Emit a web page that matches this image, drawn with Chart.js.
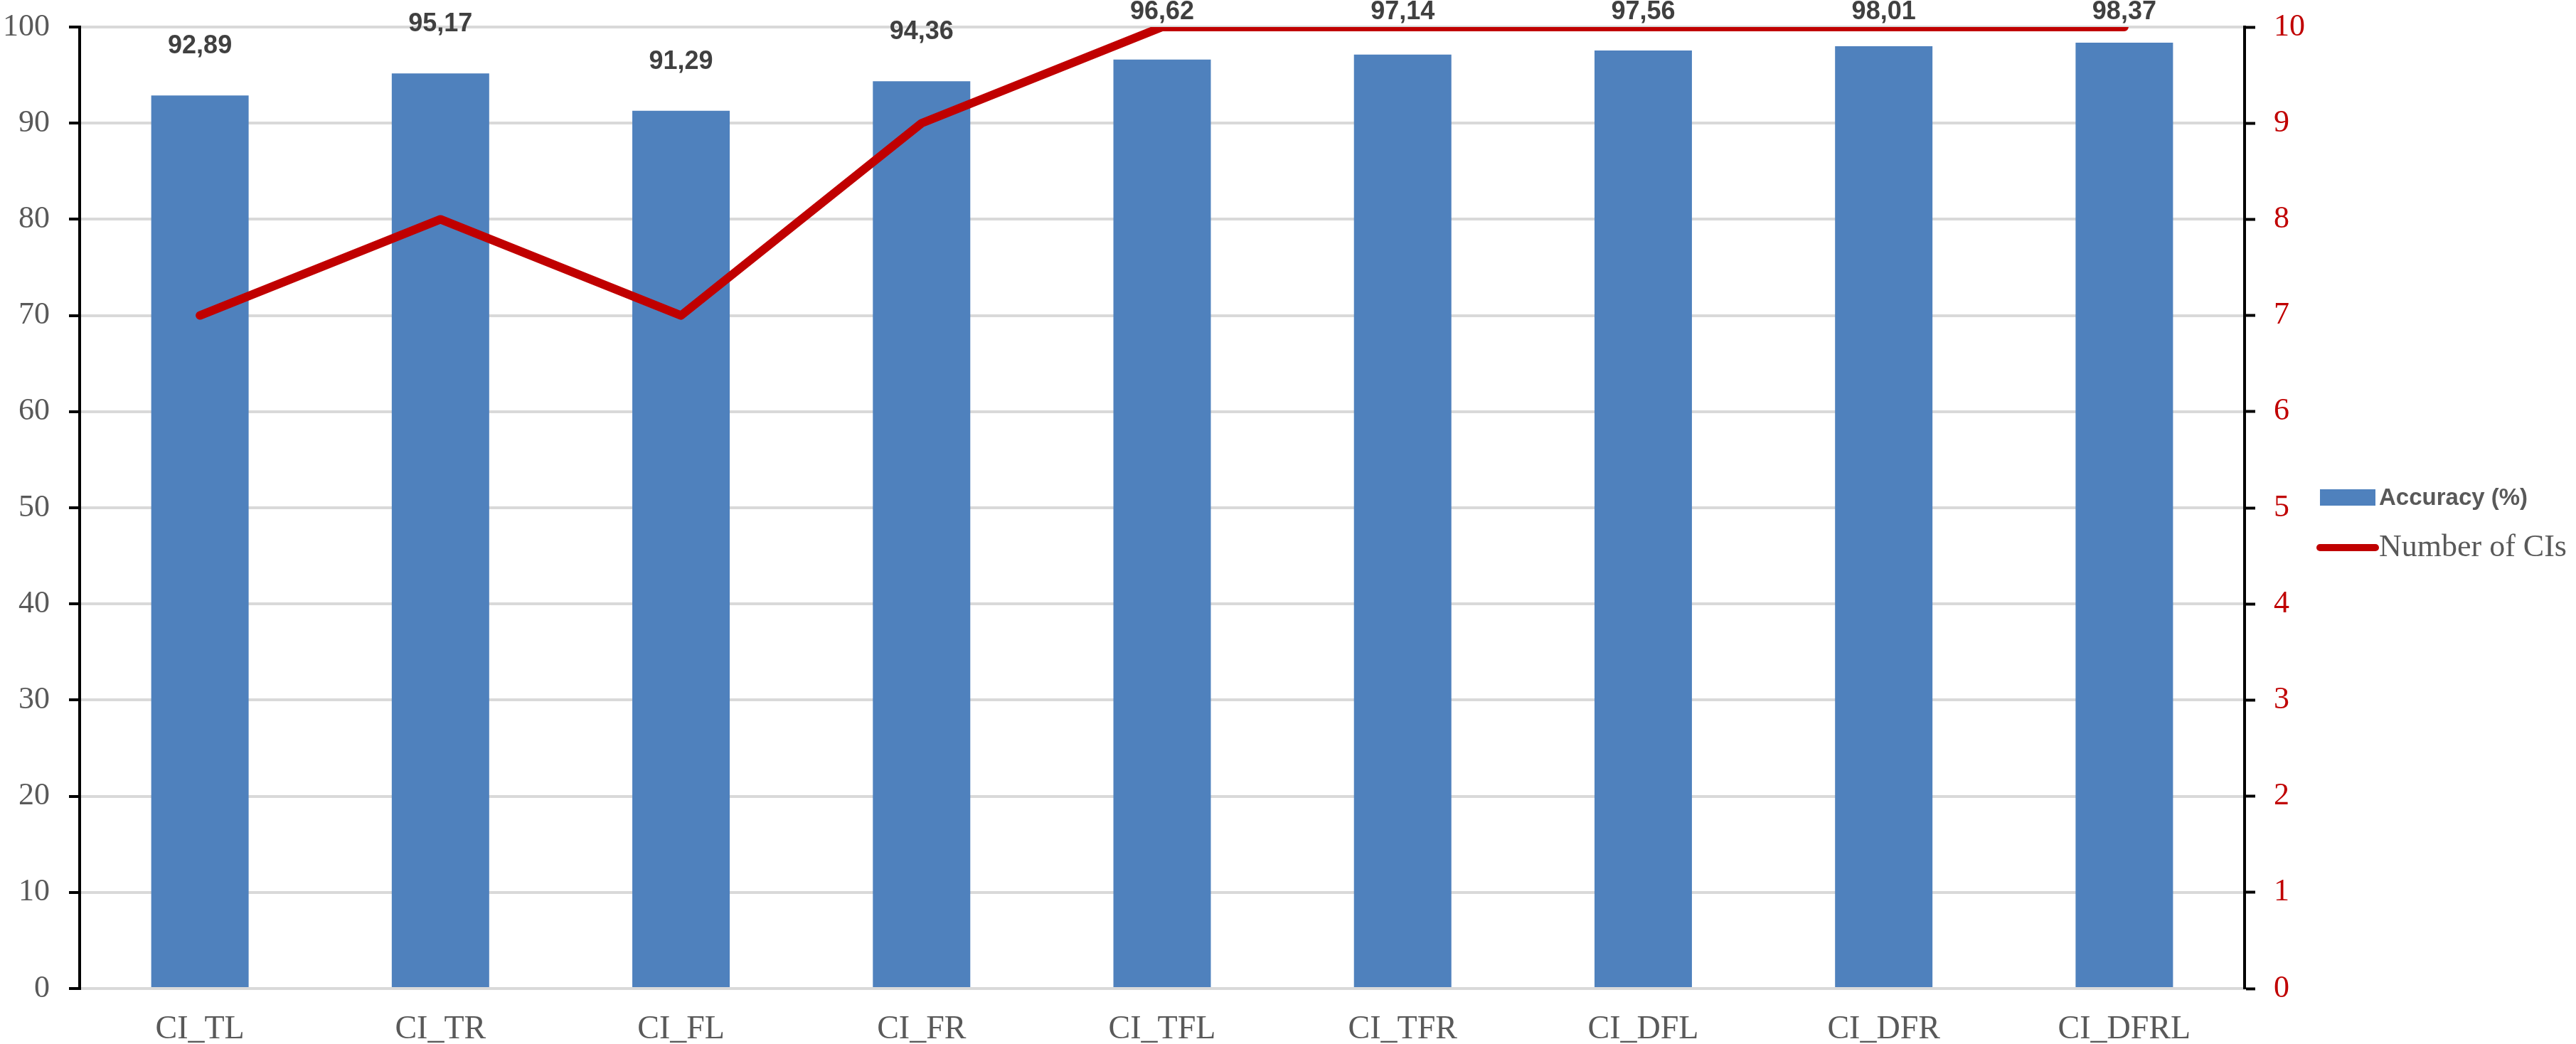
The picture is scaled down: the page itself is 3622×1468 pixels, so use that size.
<!DOCTYPE html>
<html>
<head>
<meta charset="utf-8">
<script src="https://cdn.jsdelivr.net/npm/chart.js@4.4.0/dist/chart.umd.min.js"></script>
<style>
  html, body { margin: 0; padding: 0; background: #fff; }
  #wrap { position: relative; width: 3622px; height: 1468px; }
  #legend { position: absolute; left: 3257px; top: 670px; }
  .box { position: absolute; left: 5px; top: 18px; width: 78px; height: 23px; background: #4F81BD; }
  .ln { position: absolute; left: 0; top: 95px; width: 88px; height: 10px; border-radius: 5px; background: #C00000; }
  .t1 { position: absolute; left: 88px; top: 10px; font: bold 33px "Liberation Sans", Arial, sans-serif; color: #595959; white-space: nowrap; }
  .t2 { position: absolute; left: 88px; top: 72px; font: 44px "Liberation Serif", serif; color: #595959; white-space: nowrap; }
</style>
</head>
<body>
<div id="wrap">
  <canvas id="myChart" width="3622" height="1468"></canvas>
  <div id="legend">
    <div class="box"></div><div class="t1">Accuracy (%)</div>
    <div class="ln"></div><div class="t2">Number of CIs</div>
  </div>
</div>
<script>
var categories = ["CI_TL", "CI_TR", "CI_FL", "CI_FR", "CI_TFL", "CI_TFR", "CI_DFL", "CI_DFR", "CI_DFRL"];
var accuracy = [92.89, 95.17, 91.29, 94.36, 96.62, 97.14, 97.56, 98.01, 98.37];
var numberOfCIs = [7, 8, 7, 9, 10, 10, 10, 10, 10];
var leftTicks = [0, 10, 20, 30, 40, 50, 60, 70, 80, 90, 100];
var rightTicks = [0, 1, 2, 3, 4, 5, 6, 7, 8, 9, 10];

// etichette sopra le barre, formato con la virgola
var barLabels = {
  id: 'barLabels',
  afterDatasetsDraw: function(chart) {
    var ctx = chart.ctx;
    var meta = chart.getDatasetMeta(1);
    ctx.save();
    ctx.font = 'bold 36px "Liberation Sans", Arial, sans-serif';
    ctx.fillStyle = '#404040';
    ctx.textAlign = 'center';
    ctx.textBaseline = 'middle';
    for (var i = 0; i < meta.data.length; i++) {
      var bar = meta.data[i];
      var y = Math.max(bar.y - 69, 17);
      ctx.fillText(accuracy[i].toFixed(2).replace('.', ','), bar.x, y);
    }
    ctx.restore();
  }
};

function noPad(s) {
  s.paddingTop = 0;
  s.paddingBottom = 0;
}

function getChart() {
  var ctx = document.getElementById('myChart').getContext('2d');
  var chart = new Chart(ctx, {
    type: 'bar',
    data: {
      labels: categories,
      datasets: [{
        type: 'line',
        label: 'Number of CIs',
        data: numberOfCIs,
        yAxisID: 'y1',
        borderColor: '#C00000',
        borderWidth: 12,
        borderJoinStyle: 'round',
        borderCapStyle: 'round',
        pointRadius: 0,
        tension: 0,
        clip: 0,
        order: 0
      }, {
        type: 'bar',
        label: 'Accuracy (%)',
        data: accuracy,
        yAxisID: 'y',
        backgroundColor: '#4F81BD',
        barPercentage: 0.405,
        categoryPercentage: 1,
        order: 1
      }]
    },
    options: {
      responsive: false,
      animation: false,
      layout: { padding: { top: 38, left: 0, right: 0, bottom: 0 } },
      plugins: { legend: { display: false }, tooltip: { enabled: false } },
      scales: {
        x: {
          grid: { display: false },
          border: { color: '#D9D9D9', width: 4 },
          ticks: { color: '#595959', font: { family: '"Liberation Serif", serif', size: 46 }, padding: 22 },
          afterFit: function(s) { s.height = 78; s.paddingLeft = 0; s.paddingRight = 0; }
        },
        y: {
          position: 'left',
          min: 0, max: 100,
          afterBuildTicks: function(s) { s.ticks = leftTicks.map(function(v) { return { value: v }; }); },
          grid: { color: '#D9D9D9', lineWidth: 4, tickColor: '#000', tickLength: 15, tickWidth: 4 },
          border: { color: '#000', width: 4 },
          ticks: { color: '#595959', font: { family: '"Liberation Serif", serif', size: 44 }, padding: 27 },
          afterFit: function(s) { s.width = 112; noPad(s); }
        },
        y1: {
          position: 'right',
          min: 0, max: 10,
          afterBuildTicks: function(s) { s.ticks = rightTicks.map(function(v) { return { value: v }; }); },
          grid: { drawOnChartArea: false, tickColor: '#000', tickLength: 15, tickWidth: 4 },
          border: { color: '#000', width: 4 },
          ticks: { color: '#C00000', font: { family: '"Liberation Serif", serif', size: 44 }, padding: 26 },
          afterFit: function(s) { s.width = 466; noPad(s); }
        }
      }
    },
    plugins: [barLabels]
  });
}

getChart();
</script>
</body>
</html>
